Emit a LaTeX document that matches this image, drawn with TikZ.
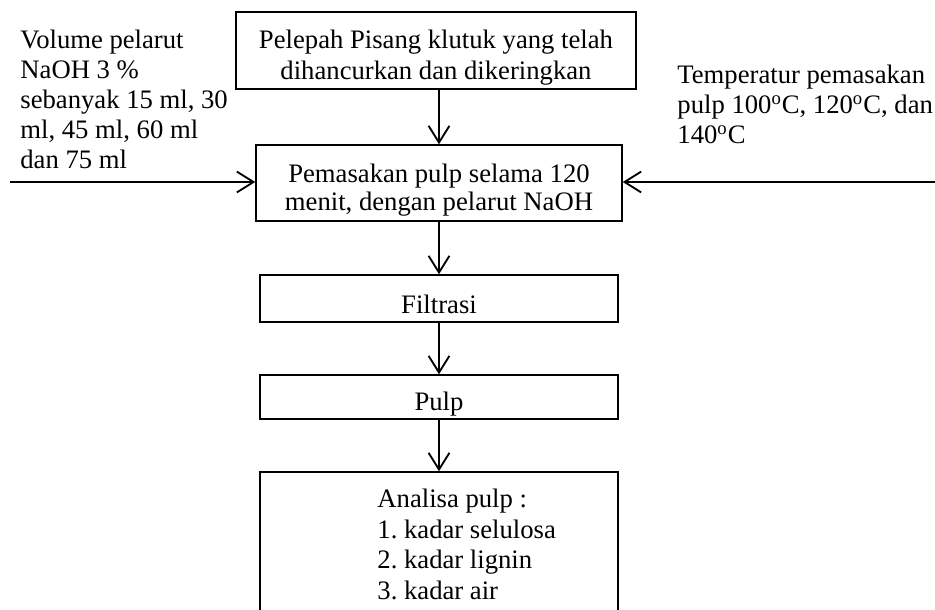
\documentclass[tikz,border=0pt]{standalone}
\usepackage{fontspec}
\setmainfont{Liberation Serif}
\usetikzlibrary{arrows.meta,positioning}
\frenchspacing

\begin{document}
\begin{tikzpicture}[
  x=0.48pt, y=-0.48pt,
  every process box/.style={draw, line width=0.7pt, inner sep=0pt},
  every box text/.style={inner sep=0pt, align=center, yshift=-3.6pt,
    font=\fontsize{12.8}{14}\selectfont},
  every side note/.style={inner sep=0pt, align=left, font=\fontsize{12.8}{14.4}\selectfont},
  every flow/.style={line width=0.9pt, -{Straight Barb[length=8pt, width=10pt, line width=0.9pt]}}
]
\useasboundingbox (0,0) rectangle (935,609);
\node[every process box, minimum width=400*0.48pt, minimum height=77*0.48pt] (pelepah) at (436,50.5) {};
\node[every process box, minimum width=366*0.48pt, minimum height=76*0.48pt] (masak) at (439,183) {};
\node[every process box, minimum width=358*0.48pt, minimum height=47*0.48pt] (filtrasi) at (439,298.5) {};
\node[every process box, minimum width=358*0.48pt, minimum height=44*0.48pt] (pulp) at (439,397) {};
\node[every process box, minimum width=358*0.48pt, minimum height=160*0.48pt] (analisa) at (439,552) {};
\node[every box text, font=\fontsize{12.8}{14.9}\selectfont] (pelepah text) at (pelepah)
  {Pelepah Pisang klutuk yang telah\\dihancurkan dan dikeringkan};
\node[every box text, font=\fontsize{12.8}{13.4}\selectfont] (masak text) at (masak)
  {Pemasakan pulp selama 120\\menit, dengan pelarut NaOH};
\node[every box text, yshift=0.6pt] (filtrasi text) at (filtrasi) {Filtrasi};
\node[every box text] (pulp text) at (pulp) {Pulp};
\node[every side note, anchor=north west, font=\fontsize{12.8}{14.6}\selectfont] (hasil) at (377,489)
  {Analisa pulp :\\1. kadar selulosa\\2. kadar lignin\\3. kadar air};
\node[every side note, anchor=north west] (volume) at (20,30)
  {Volume pelarut\\NaOH 3 \%\\sebanyak 15 ml, 30\\ml, 45 ml, 60 ml\\dan 75 ml};
\node[every side note, anchor=north west] (suhu) at (677,65)
  {Temperatur pemasakan\\pulp 100\textsuperscript{o}C, 120\textsuperscript{o}C, dan\\140\textsuperscript{o}C};
\coordinate (kiri) at (10,182);
\coordinate (kanan) at (935,182);
\draw[every flow] (pelepah.south -| masak.north) -- (masak.north);
\draw[every flow] (masak) -- (filtrasi);
\draw[every flow] (filtrasi) -- (pulp);
\draw[every flow] (pulp) -- (analisa);
\draw[every flow] (kiri) -- (kiri -| masak.west);
\draw[every flow] (kanan) -- (kanan -| masak.east);
\end{tikzpicture}
\end{document}
